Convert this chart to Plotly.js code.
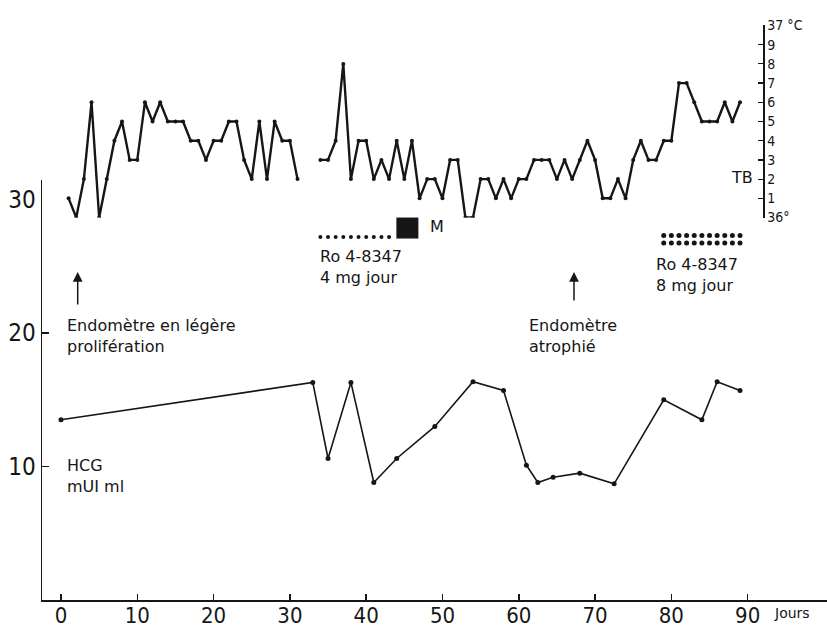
<!DOCTYPE html>
<html>
<head>
<meta charset="utf-8">
<script src="https://cdn.plot.ly/plotly-3.0.1.min.js"></script>
<style>html,body{margin:0;padding:0;background:#fff;}#chart{width:827px;height:633px;}</style>
</head>
<body>
<div id="chart"></div>
<script>
// ---- Data ----
// Basal temperature (TB), °C — first cycle part
const tempDays1 = [1,2,3,4,5,6,7,8,9,10,11,12,13,14,15,16,17,18,19,20,21,22,23,24,25,26,27,28,29,30,31];
const tempVals1 = [36.1,36.0,36.2,36.6,36.0,36.2,36.4,36.5,36.3,36.3,36.6,36.5,36.6,36.5,36.5,36.5,36.4,36.4,36.3,36.4,36.4,36.5,36.5,36.3,36.2,36.5,36.2,36.5,36.4,36.4,36.2];
// Basal temperature — second part
const tempDays2 = [34,35,36,37,38,39,40,41,42,43,44,45,46,47,48,49,50,51,52,53,54,55,56,57,58,59,60,61,62,63,64,65,66,67,68,69,70,71,72,73,74,75,76,77,78,79,80,81,82,83,84,85,86,87,88,89];
const tempVals2 = [36.3,36.3,36.4,36.8,36.2,36.4,36.4,36.2,36.3,36.2,36.4,36.2,36.4,36.1,36.2,36.2,36.1,36.3,36.3,36.0,36.0,36.2,36.2,36.1,36.2,36.1,36.2,36.2,36.3,36.3,36.3,36.2,36.3,36.2,36.3,36.4,36.3,36.1,36.1,36.2,36.1,36.3,36.4,36.3,36.3,36.4,36.4,36.7,36.7,36.6,36.5,36.5,36.5,36.6,36.5,36.6];
// HCG, mUI/ml
const hcgDays = [0,33,35,38,41,44,49,54,58,61,62.5,64.5,68,72.5,79,84,86,89];
const hcgVals = [13.5,16.3,10.6,16.3,8.8,10.6,13.0,16.35,15.7,10.1,8.8,9.2,9.5,8.7,15.0,13.5,16.35,15.7];
// Treatment Ro 4-8347: 4 mg/day (one dot per day), 8 mg/day (two dots per day)
const dose4Days = [34,35,36,37,38,39,40,41,42,43];
const dose8Days = [79,80,81,82,83,84,85,86,87,88,89];
// Menstruation (M)
const mensesDay = [45.4];
// Tick labels
const xTicks = [0,10,20,30,40,50,60,70,80,90];
const hcgTicks = [10,20,30];
const tempTicks = [36.0,36.1,36.2,36.3,36.4,36.5,36.6,36.7,36.8,36.9,37.0];
const tempTickText = ['36°','1','2','3','4','5','6','7','8','9','37 °C'];

// ---- Drawing ----
const ink = '#161616';
const narrow = 'DejaVu Sans Condensed, Liberation Sans Narrow, Arial Narrow, sans-serif';
const txtFont = {family: 'DejaVu Sans, Liberation Sans, sans-serif', size: 16, color: ink};

const traces = [
  {x: tempDays1, y: tempVals1, yaxis: 'y2', mode: 'lines+markers', line: {color: ink, width: 2.4}, marker: {color: ink, size: 4}},
  {x: tempDays2, y: tempVals2, yaxis: 'y2', mode: 'lines+markers', line: {color: ink, width: 2.4}, marker: {color: ink, size: 4}},
  {x: hcgDays, y: hcgVals, mode: 'lines+markers', line: {color: ink, width: 1.6}, marker: {color: ink, size: 5}},
  {x: dose4Days, y: dose4Days.map(() => 27.2), mode: 'markers', marker: {color: ink, size: 4}},
  {x: dose8Days, y: dose8Days.map(() => 27.3), mode: 'markers', marker: {color: ink, size: 5}},
  {x: dose8Days, y: dose8Days.map(() => 26.75), mode: 'markers', marker: {color: ink, size: 5}},
  {x: mensesDay, y: mensesDay.map(() => 27.9), mode: 'markers', marker: {color: ink, size: 22, symbol: 'square'}}
];

const P = (px) => (px - 42) / 785;
const Q = (py) => (600 - py) / 585;

const layout = {
  width: 827, height: 633,
  margin: {l: 42, r: 0, t: 15, b: 33, pad: 0},
  paper_bgcolor: '#fff', plot_bgcolor: '#fff',
  showlegend: false,
  xaxis: {
    range: [-2.49, 100.4], anchor: 'y', tickvals: xTicks, ticks: 'inside', ticklen: 6, tickwidth: 1.5, tickcolor: ink,
    showline: true, linewidth: 2, linecolor: ink, showgrid: false, zeroline: false,
    ticklabelstandoff: -5,
    tickfont: {family: narrow, size: 22, color: ink}
  },
  yaxis: {
    domain: [0, 0.7179], range: [0, 31.46], tickvals: hcgTicks, ticks: 'inside', ticklen: 7, tickwidth: 1.5, tickcolor: ink,
    showline: true, linewidth: 1.5, linecolor: ink, showgrid: false, zeroline: false,
    tickfont: {family: narrow, size: 24, color: ink}
  },
  yaxis2: {
    domain: [0.6538, 0.9821], range: [36.0, 37.0], anchor: 'free', position: 0.9185, side: 'right',
    tickvals: tempTicks, ticktext: tempTickText, ticks: 'inside', ticklen: 5, tickwidth: 1.2, tickcolor: ink,
    showline: true, linewidth: 1.5, linecolor: ink, showgrid: false, zeroline: false,
    tickfont: {family: narrow, size: 14, color: ink}
  },
  annotations: [
    {xref: 'paper', yref: 'paper', x: P(65), y: Q(336), xanchor: 'left', yanchor: 'middle', align: 'left', showarrow: false, text: 'Endomètre en légère<br>prolifération', font: txtFont},
    {xref: 'paper', yref: 'paper', x: P(527), y: Q(336), xanchor: 'left', yanchor: 'middle', align: 'left', showarrow: false, text: 'Endomètre<br>atrophié', font: txtFont},
    {xref: 'paper', yref: 'paper', x: P(65), y: Q(476), xanchor: 'left', yanchor: 'middle', align: 'left', showarrow: false, text: 'HCG<br>mUI ml', font: txtFont},
    {xref: 'paper', yref: 'paper', x: P(742), y: Q(177), xanchor: 'center', yanchor: 'middle', showarrow: false, text: 'TB', font: txtFont},
    {xref: 'paper', yref: 'paper', x: P(318), y: Q(267), xanchor: 'left', yanchor: 'middle', align: 'left', showarrow: false, text: 'Ro 4-8347<br>4 mg jour', font: txtFont},
    {xref: 'paper', yref: 'paper', x: P(437), y: Q(226), xanchor: 'center', yanchor: 'middle', showarrow: false, text: 'M', font: txtFont},
    {xref: 'paper', yref: 'paper', x: P(654), y: Q(275), xanchor: 'left', yanchor: 'middle', align: 'left', showarrow: false, text: 'Ro 4-8347<br>8 mg jour', font: txtFont},
    {xref: 'paper', yref: 'paper', x: P(772), y: Q(613), xanchor: 'left', yanchor: 'middle', showarrow: false, text: 'Jours', font: {family: txtFont.family, size: 14, color: ink}},
    {xref: 'paper', yref: 'paper', x: P(77.7), y: Q(272), text: '', showarrow: true, ax: 0, ay: 34, arrowhead: 2, arrowsize: 1.3, arrowwidth: 1.5, arrowcolor: ink},
    {xref: 'paper', yref: 'paper', x: P(574), y: Q(272), text: '', showarrow: true, ax: 0, ay: 30, arrowhead: 2, arrowsize: 1.3, arrowwidth: 1.5, arrowcolor: ink}
  ]
};

Plotly.newPlot('chart', traces, layout, {displayModeBar: false, staticPlot: true});
</script>
</body>
</html>
